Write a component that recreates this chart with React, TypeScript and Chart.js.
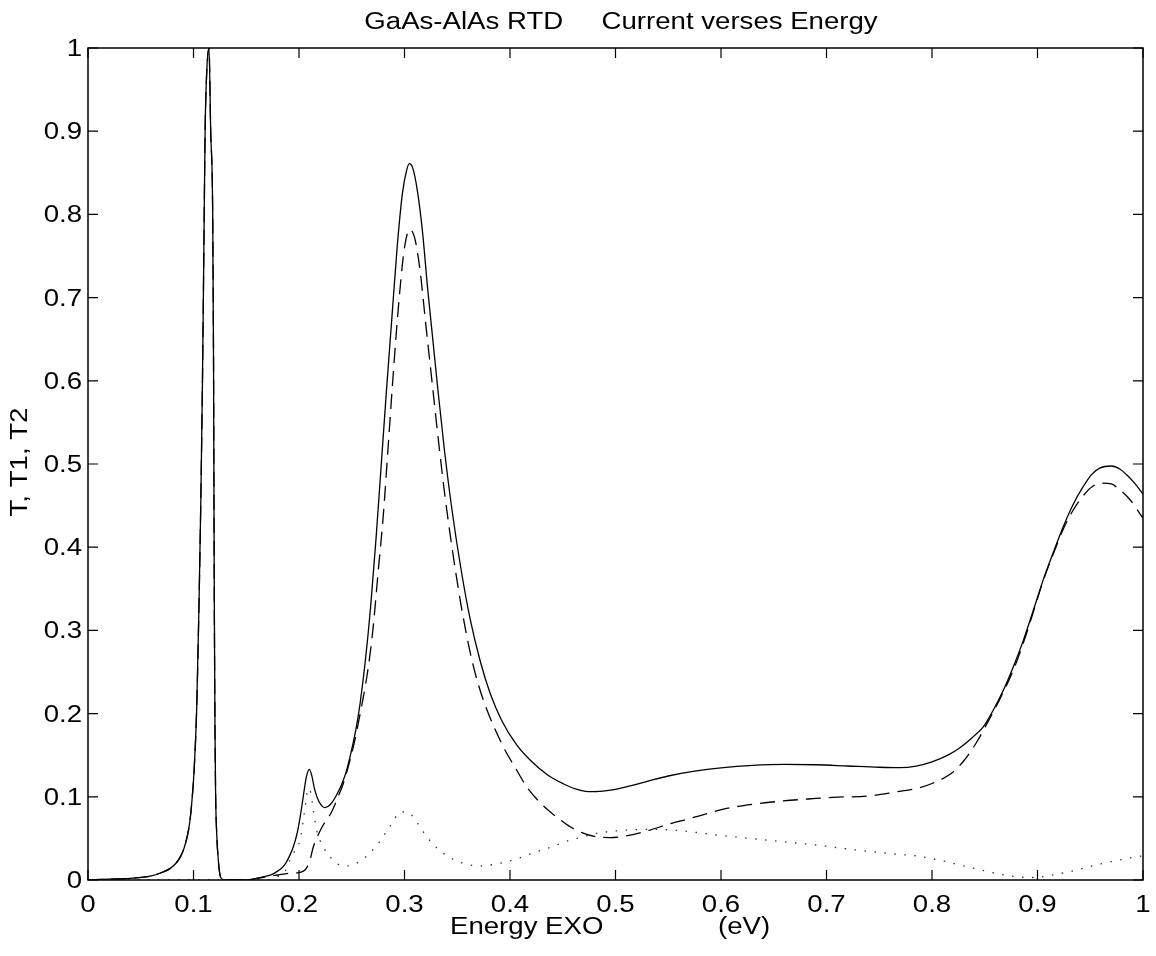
import React, { useEffect, useRef } from "react";
import { Chart, registerables } from "chart.js";

Chart.register(...registerables);

// ---------- data ----------
const titleText = "GaAs-AlAs RTD     Current verses Energy";
const xAxisTitle = "Energy EXO";
const xAxisUnit = "(eV)";
const yAxisTitle = "T, T1, T2";

const tickValues = [0, 0.1, 0.2, 0.3, 0.4, 0.5, 0.6, 0.7, 0.8, 0.9, 1];
const xTickLabels = ["0", "0.1", "0.2", "0.3", "0.4", "0.5", "0.6", "0.7", "0.8", "0.9", "1"];
const yTickLabels = ["0", "0.1", "0.2", "0.3", "0.4", "0.5", "0.6", "0.7", "0.8", "0.9", "1"];

// T (solid)
const tEnergy = [
  0, 0.02, 0.04, 0.06, 0.07, 0.078, 0.084, 0.088, 0.091, 0.094, 0.0965, 0.0985, 0.1005, 0.103, 0.1052,
  0.107, 0.1085, 0.11, 0.111, 0.1125, 0.1147, 0.1163, 0.1182, 0.119, 0.1197, 0.1204, 0.121, 0.122, 0.1235,
  0.1258, 0.13, 0.15, 0.16, 0.17, 0.175, 0.18, 0.185, 0.19, 0.1946, 0.198, 0.201, 0.204, 0.207, 0.2098,
  0.212, 0.215, 0.219, 0.2246, 0.23, 0.236, 0.2415, 0.246, 0.2505, 0.2545, 0.258, 0.263, 0.268, 0.273,
  0.278, 0.283, 0.288, 0.293, 0.298, 0.302, 0.3046, 0.308, 0.312, 0.317, 0.322, 0.326, 0.332, 0.338,
  0.345, 0.353, 0.362, 0.372, 0.381, 0.392, 0.406, 0.42, 0.436, 0.45, 0.462, 0.474, 0.488, 0.5, 0.515, 0.53,
  0.55, 0.575, 0.6, 0.63, 0.66, 0.69, 0.72, 0.75, 0.77, 0.785, 0.8, 0.815, 0.8265, 0.838, 0.8486, 0.858, 0.8676,
  0.877, 0.8866, 0.896, 0.9055, 0.915, 0.9245, 0.934, 0.9434, 0.951, 0.959, 0.97, 0.978, 0.9845, 0.992, 1.0,
];
const tValues = [
  0, 0.001, 0.002, 0.005, 0.009, 0.014, 0.021, 0.029, 0.038, 0.052, 0.07, 0.095, 0.13, 0.205, 0.33,
  0.46, 0.6, 0.78, 0.9, 0.97, 1.0, 0.9, 0.8, 0.62, 0.34, 0.176, 0.1, 0.056, 0.024,
  0.003, 0, 0, 0.002, 0.005, 0.007, 0.011, 0.016, 0.026, 0.04, 0.055, 0.075, 0.1, 0.124, 0.133,
  0.126, 0.108, 0.094, 0.087, 0.091, 0.103, 0.118, 0.136, 0.16, 0.185, 0.213, 0.265, 0.33, 0.41,
  0.5, 0.59, 0.675, 0.76, 0.825, 0.853, 0.861, 0.855, 0.83, 0.78, 0.71, 0.66, 0.585, 0.515,
  0.445, 0.378, 0.315, 0.262, 0.225, 0.192, 0.163, 0.143, 0.126, 0.116, 0.1095, 0.1062, 0.1068, 0.109, 0.1135, 0.1185,
  0.125, 0.1308, 0.1348, 0.1378, 0.139, 0.1385, 0.137, 0.1355, 0.135, 0.137, 0.142, 0.15, 0.159, 0.171, 0.184, 0.204, 0.228,
  0.256, 0.288, 0.324, 0.361, 0.394, 0.425, 0.452, 0.473, 0.487, 0.495, 0.4976, 0.494, 0.487, 0.477, 0.464,
];

// T1 (dashed)
const t1Energy = [
  0, 0.02, 0.04, 0.06, 0.07, 0.078, 0.084, 0.088, 0.091, 0.094, 0.0965, 0.0985, 0.1005, 0.103, 0.1052,
  0.107, 0.1085, 0.11, 0.111, 0.1125, 0.1147, 0.1163, 0.1182, 0.119, 0.1197, 0.1204, 0.121, 0.122, 0.1235,
  0.1258, 0.13, 0.15, 0.16, 0.17, 0.18, 0.19, 0.2, 0.2057, 0.21, 0.2136, 0.2167, 0.222, 0.231, 0.237,
  0.242, 0.2515, 0.258, 0.265, 0.27, 0.275, 0.28, 0.285, 0.29, 0.295, 0.3, 0.305, 0.31, 0.315, 0.32,
  0.326, 0.332, 0.338, 0.345, 0.353, 0.362, 0.37, 0.378, 0.3937, 0.405, 0.4158, 0.427, 0.438, 0.447,
  0.457, 0.468, 0.482, 0.495, 0.51, 0.5327, 0.55, 0.5706, 0.59, 0.6054, 0.63, 0.659, 0.69, 0.706, 0.74,
  0.7665, 0.7855, 0.8, 0.817, 0.83, 0.842, 0.853, 0.8645, 0.877, 0.8866, 0.896, 0.9055, 0.915, 0.9245,
  0.934, 0.9434, 0.952, 0.962, 0.97, 0.978, 0.9877, 1.0,
];
const t1Values = [
  0, 0.001, 0.002, 0.005, 0.009, 0.014, 0.021, 0.029, 0.038, 0.052, 0.07, 0.095, 0.13, 0.205, 0.33,
  0.46, 0.6, 0.78, 0.9, 0.97, 1.0, 0.9, 0.8, 0.62, 0.34, 0.176, 0.1, 0.056, 0.024,
  0.003, 0, 0, 0.002, 0.004, 0.006, 0.008, 0.009, 0.012, 0.022, 0.04, 0.05, 0.064, 0.082, 0.1,
  0.116, 0.16, 0.2, 0.25, 0.3, 0.37, 0.44, 0.53, 0.62, 0.7, 0.76, 0.782, 0.77, 0.73, 0.67,
  0.6, 0.53, 0.465, 0.4, 0.335, 0.275, 0.235, 0.205, 0.16, 0.135, 0.112, 0.095, 0.082, 0.073,
  0.064, 0.057, 0.052, 0.051, 0.053, 0.06, 0.067, 0.074, 0.081, 0.086, 0.091, 0.095, 0.098, 0.0994, 0.101,
  0.106, 0.11, 0.116, 0.127, 0.143, 0.165, 0.19, 0.218, 0.252, 0.285, 0.322, 0.36, 0.392, 0.422,
  0.445, 0.462, 0.473, 0.477, 0.476, 0.469, 0.457, 0.435,
];

// T2 (dotted)
const t2Energy = [
  0, 0.17, 0.175, 0.18, 0.1875, 0.1915, 0.196, 0.201, 0.205, 0.209, 0.211, 0.2136, 0.2167, 0.223, 0.23,
  0.2389, 0.248, 0.257, 0.267, 0.277, 0.286, 0.297, 0.305, 0.313, 0.321, 0.3368, 0.3558, 0.3716, 0.3937,
  0.41, 0.4253, 0.44, 0.457, 0.4695, 0.482, 0.501, 0.533, 0.564, 0.596, 0.6275, 0.659, 0.6907, 0.722,
  0.7665, 0.7855, 0.81, 0.833, 0.85, 0.8645, 0.88, 0.893, 0.9055, 0.918, 0.9308, 0.946, 0.962, 0.978,
  0.994, 1.0,
];
const t2Values = [
  0, 0, 0.002, 0.004, 0.012, 0.024, 0.035, 0.048, 0.08, 0.11, 0.105, 0.084, 0.06, 0.04, 0.027,
  0.018, 0.017, 0.022, 0.032, 0.047, 0.064, 0.082, 0.08, 0.067, 0.052, 0.032, 0.02, 0.017, 0.021,
  0.027, 0.034, 0.04, 0.048, 0.052, 0.056, 0.059, 0.061, 0.059, 0.054, 0.05, 0.046, 0.042, 0.037,
  0.031, 0.029, 0.023, 0.016, 0.011, 0.007, 0.004, 0.003, 0.004, 0.007, 0.01, 0.015, 0.02, 0.024,
  0.028, 0.029,
];

const pts = (xs: number[], ys: number[]) => xs.map((x, i) => ({ x, y: ys[i] }));

const FONT = '23px "Liberation Sans", Arial, Helvetica, sans-serif';
const SX = 1.2;

function stretchedText(ctx: CanvasRenderingContext2D, text: string, x: number, y: number, align: CanvasTextAlign) {
  ctx.save();
  ctx.translate(x, y);
  ctx.scale(SX, 1);
  ctx.textAlign = align;
  ctx.textBaseline = "alphabetic";
  ctx.fillText(text, 0, 0);
  ctx.restore();
}

const framePlugin = {
  id: "matlabFrame",
  afterDraw(chart: any) {
    const { ctx, chartArea } = chart;
    const { left, right, top, bottom } = chartArea;
    const xs = chart.scales.x;
    const ys = chart.scales.y;
    ctx.save();
    ctx.strokeStyle = "#000";
    ctx.lineWidth = 1.5;
    ctx.beginPath();
    ctx.rect(left, top, right - left, bottom - top);
    ctx.stroke();
    ctx.lineWidth = 1.2;
    ctx.beginPath();
    const tl = 10;
    tickValues.forEach((v) => {
      const px = xs.getPixelForValue(v);
      ctx.moveTo(px, bottom);
      ctx.lineTo(px, bottom - tl);
      ctx.moveTo(px, top);
      ctx.lineTo(px, top + tl);
      const py = ys.getPixelForValue(v);
      ctx.moveTo(left, py);
      ctx.lineTo(left + tl, py);
      ctx.moveTo(right, py);
      ctx.lineTo(right - tl, py);
    });
    ctx.stroke();

    ctx.fillStyle = "#000";
    ctx.font = FONT;
    tickValues.forEach((v, i) => {
      stretchedText(ctx, xTickLabels[i], xs.getPixelForValue(v), bottom + 32, "center");
      stretchedText(ctx, yTickLabels[i], left - 6, ys.getPixelForValue(v) + 8, "right");
    });
    // title
    stretchedText(ctx, titleText, 621, 29, "center");
    // x axis title
    stretchedText(ctx, xAxisTitle, 450, 934, "left");
    stretchedText(ctx, xAxisUnit, 718, 934, "left");
    // y axis title
    ctx.save();
    ctx.translate(27, (top + bottom) / 2 - 2);
    ctx.rotate(-Math.PI / 2);
    ctx.scale(SX, 1);
    ctx.textAlign = "center";
    ctx.textBaseline = "alphabetic";
    ctx.fillText(yAxisTitle, 0, 0);
    ctx.restore();
    ctx.restore();
  },
};

export default function App() {
  const ref = useRef<HTMLCanvasElement | null>(null);
  useEffect(() => {
    if (!ref.current) return;
    const chart = new Chart(ref.current, {
      type: "scatter",
      data: {
        datasets: [
          {
            label: "T",
            data: pts(tEnergy, tValues),
            showLine: true,
            borderColor: "#000",
            borderWidth: 1.3,
            pointRadius: 0,
            cubicInterpolationMode: "monotone",
          },
          {
            label: "T1",
            data: pts(t1Energy, t1Values),
            showLine: true,
            borderColor: "#000",
            borderWidth: 1.3,
            borderDash: [15, 8],
            pointRadius: 0,
            cubicInterpolationMode: "monotone",
          },
          {
            label: "T2",
            data: pts(t2Energy, t2Values),
            showLine: true,
            borderColor: "#333",
            borderWidth: 1.3,
            borderDash: [1.5, 8.5],
            pointRadius: 0,
            cubicInterpolationMode: "monotone",
          },
        ],
      },
      options: {
        animation: false,
        responsive: false,
        devicePixelRatio: 1,
        layout: { padding: { left: 88, top: 48, right: 13, bottom: 76 } },
        plugins: { legend: { display: false }, tooltip: { enabled: false }, title: { display: false } },
        scales: {
          x: { type: "linear", min: 0, max: 1, display: false },
          y: { type: "linear", min: 0, max: 1, display: false },
        },
      },
      plugins: [framePlugin],
    } as any);
    return () => chart.destroy();
  }, []);
  return (
    <div style={{ position: "absolute", left: 0, top: 0, width: 1156, height: 956, background: "#fff" }}>
      <canvas ref={ref} width={1156} height={956} />
    </div>
  );
}
